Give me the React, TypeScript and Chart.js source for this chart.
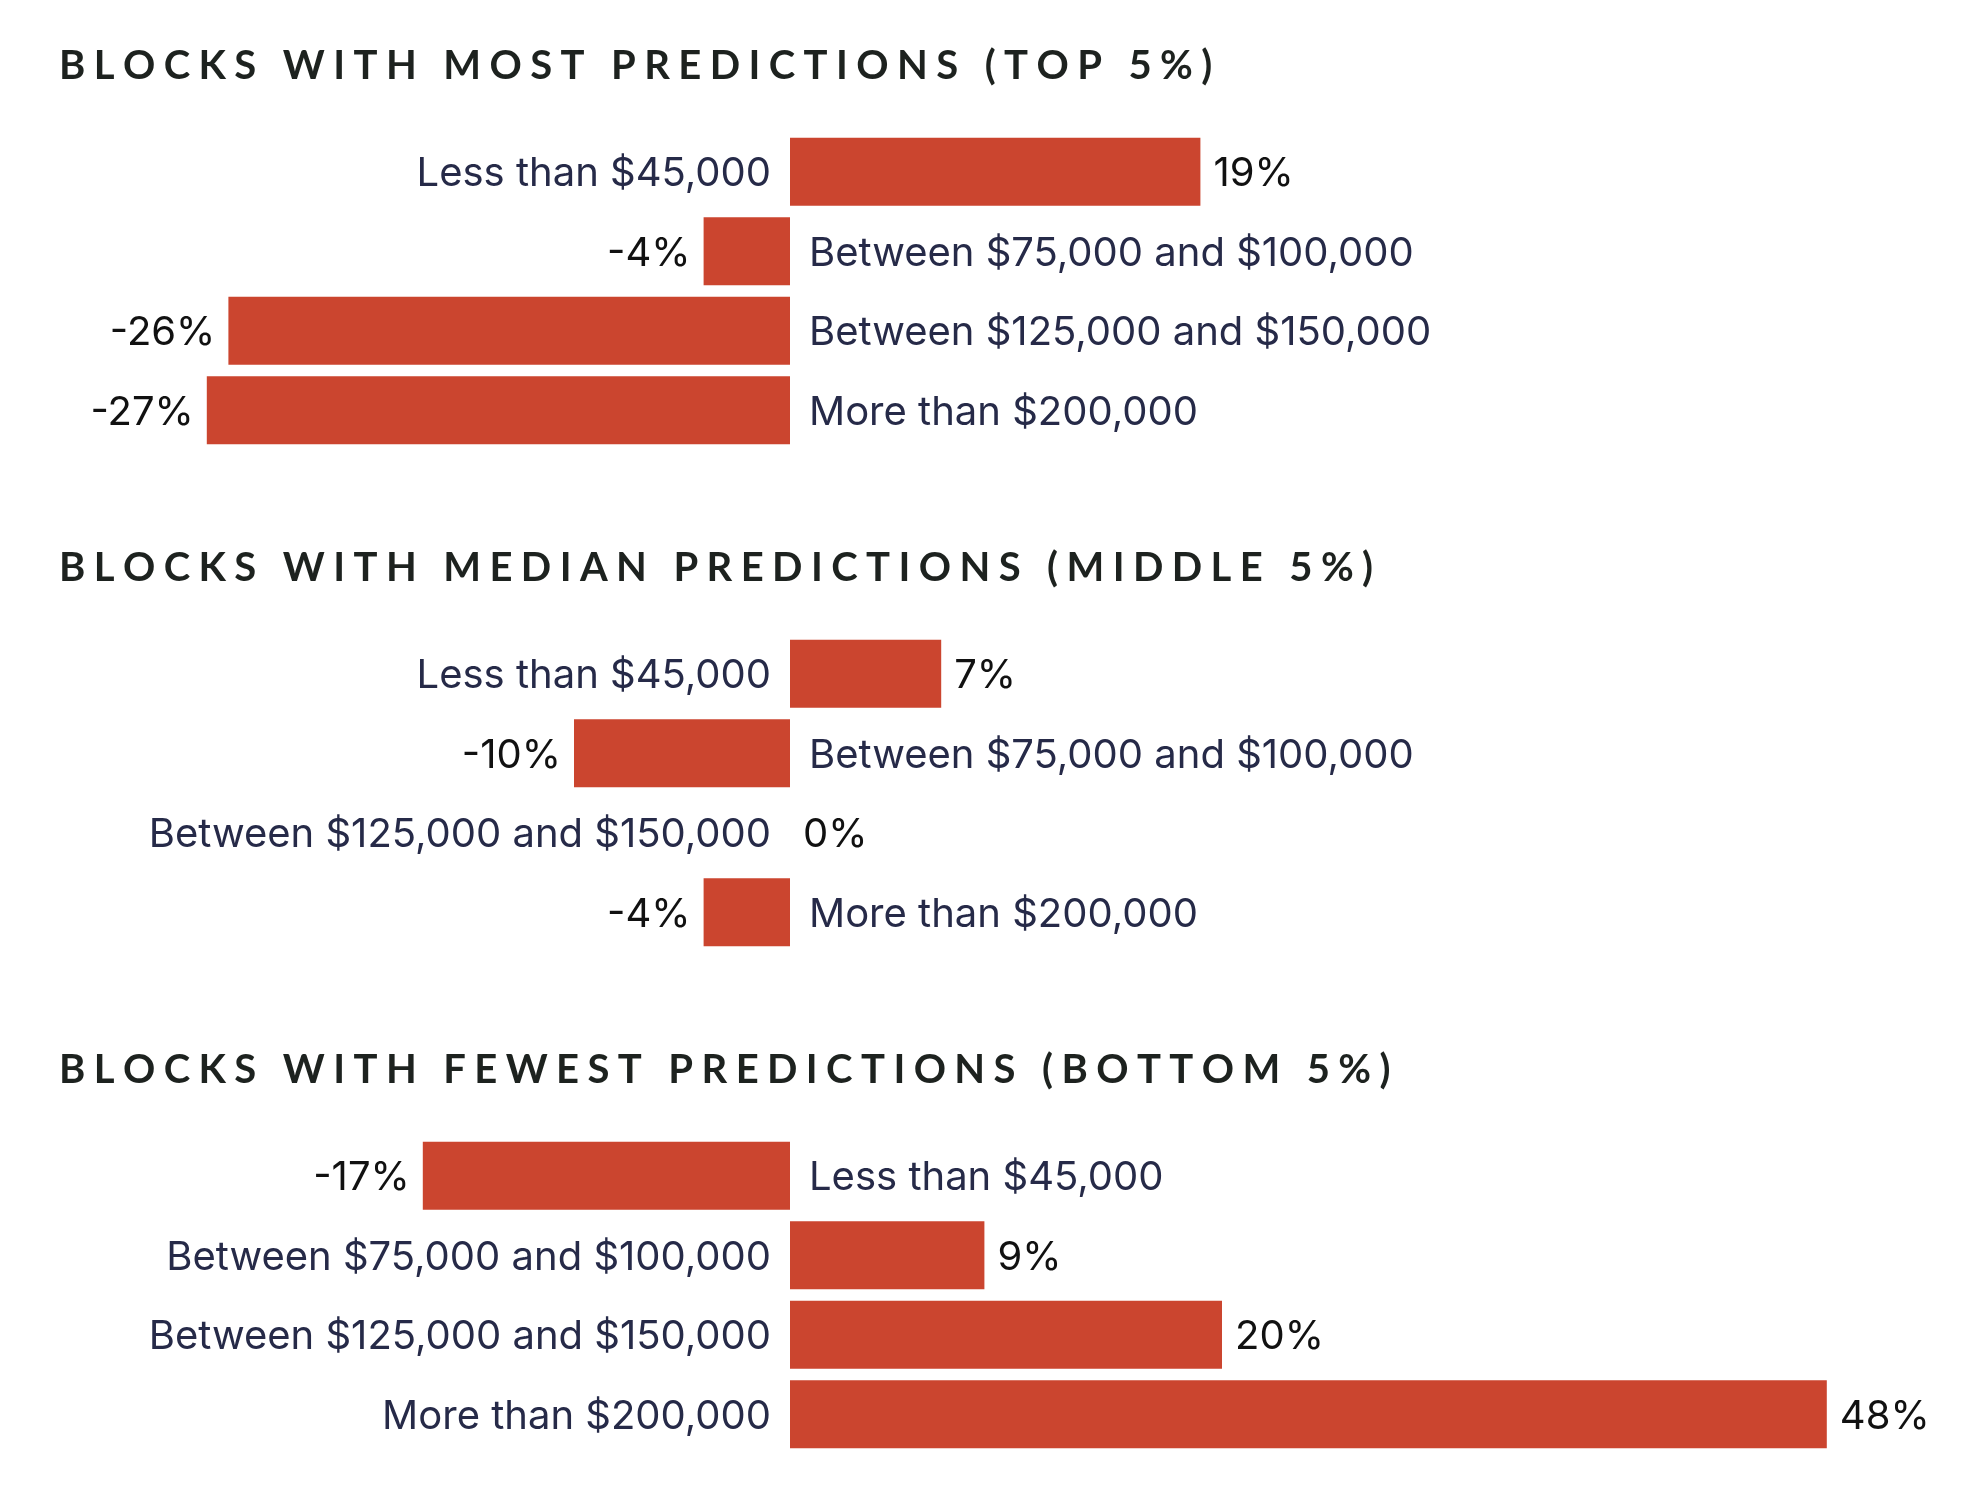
import React, { useEffect, useRef } from "react";
import { Chart, registerables } from "chart.js";

Chart.register(...registerables);

// ---- data ----
const CATEGORIES = [
  "Less than $45,000",
  "Between $75,000 and $100,000",
  "Between $125,000 and $150,000",
  "More than $200,000",
];
const TOP_VALUES = [19, -4, -26, -27];
const MIDDLE_VALUES = [7, -10, 0, -4];
const BOTTOM_VALUES = [-17, 9, 20, 48];
const PANEL_TITLES = [
  "BLOCKS WITH MOST PREDICTIONS (TOP 5%)",
  "BLOCKS WITH MEDIAN PREDICTIONS (MIDDLE 5%)",
  "BLOCKS WITH FEWEST PREDICTIONS (BOTTOM 5%)",
];
const PANEL_VALUES = [TOP_VALUES, MIDDLE_VALUES, BOTTOM_VALUES];

// ---- layout / style ----
const WIDTH = 1965;
const PANEL_H = 470;
const PANEL_TOPS = [0, 502, 1004];
const ZERO_X = 790;
const PX_PER_UNIT = 21.6;
const X_MIN = -ZERO_X / PX_PER_UNIT;
const X_MAX = (WIDTH - ZERO_X) / PX_PER_UNIT;
const BAR_COLOR = "#cb452f";
const CAT_COLOR = "#262a48";
const VAL_COLOR = "#111111";
const TITLE_COLOR = "#1d221f";
const LABEL_FONT = "400 40px Inter";
const CAP_HALF = 14.5;
const TITLE_FONT = "bold 40px Lato";
const TITLE_SPACING = 8.4;

function drawSpaced(ctx: CanvasRenderingContext2D, text: string, x: number, y: number, spacing: number) {
  let cx = x;
  for (const ch of text) {
    ctx.fillText(ch, cx, y);
    cx += ctx.measureText(ch).width + spacing;
  }
}

function Panel({ title, values, top }: { title: string; values: number[]; top: number }) {
  const ref = useRef<HTMLCanvasElement | null>(null);
  useEffect(() => {
    if (!ref.current) return;
    const titlePlugin = {
      id: "panelTitle",
      afterDraw(chart: any) {
        const ctx = chart.ctx as CanvasRenderingContext2D;
        ctx.save();
        ctx.font = TITLE_FONT;
        ctx.fillStyle = TITLE_COLOR;
        ctx.textBaseline = "alphabetic";
        ctx.textAlign = "left";
        drawSpaced(ctx, title, 59, 79, TITLE_SPACING);
        ctx.restore();
      },
    };
    const labelPlugin = {
      id: "barLabels",
      afterDatasetsDraw(chart: any) {
        const ctx = chart.ctx as CanvasRenderingContext2D;
        const meta = chart.getDatasetMeta(0);
        ctx.save();
        ctx.font = LABEL_FONT;
        ctx.textBaseline = "alphabetic";
        meta.data.forEach((bar: any, i: number) => {
          const { x, y, base } = bar.getProps(["x", "y", "base"], true);
          const v = values[i];
          const cat = String(chart.data.labels[i]);
          const valText = (v < 0 ? "-" : "") + Math.abs(v) + "%";
          const by = y + CAP_HALF;
          if (v >= 0) {
            ctx.fillStyle = CAT_COLOR;
            ctx.textAlign = "right";
            ctx.fillText(cat, base - 19, by);
            ctx.fillStyle = VAL_COLOR;
            ctx.textAlign = "left";
            ctx.fillText(valText, x + 13, by);
          } else {
            ctx.fillStyle = CAT_COLOR;
            ctx.textAlign = "left";
            ctx.fillText(cat, base + 19, by);
            ctx.fillStyle = VAL_COLOR;
            ctx.textAlign = "right";
            ctx.fillText(valText, x - 13, by);
          }
        });
        ctx.restore();
      },
    };
    const chart = new Chart(ref.current, {
      type: "bar",
      data: {
        labels: CATEGORIES,
        datasets: [
          {
            data: values,
            backgroundColor: BAR_COLOR,
            borderWidth: 0,
            barPercentage: 0.855,
            categoryPercentage: 1,
          },
        ],
      },
      options: {
        indexAxis: "y",
        animation: false,
        responsive: false,
        maintainAspectRatio: false,
        events: [],
        layout: { padding: { top: 132, bottom: PANEL_H - 132 - 318, left: 0, right: 0 } },
        scales: {
          x: { display: false, min: X_MIN, max: X_MAX },
          y: { display: false },
        },
        plugins: { legend: { display: false }, tooltip: { enabled: false }, title: { display: false } },
      },
      plugins: [titlePlugin, labelPlugin],
    } as any);
    return () => chart.destroy();
  }, [title, values]);
  return (
    <canvas
      ref={ref}
      width={WIDTH}
      height={PANEL_H}
      style={{ position: "absolute", left: 0, top, width: WIDTH, height: PANEL_H, display: "block" }}
    />
  );
}

export default function App() {
  return (
    <div style={{ position: "absolute", left: 0, top: 0, width: WIDTH, height: 1511, background: "#ffffff", overflow: "hidden" }}>
      {PANEL_TITLES.map((t, i) => (
        <Panel key={i} title={t} values={PANEL_VALUES[i]} top={PANEL_TOPS[i]} />
      ))}
    </div>
  );
}
